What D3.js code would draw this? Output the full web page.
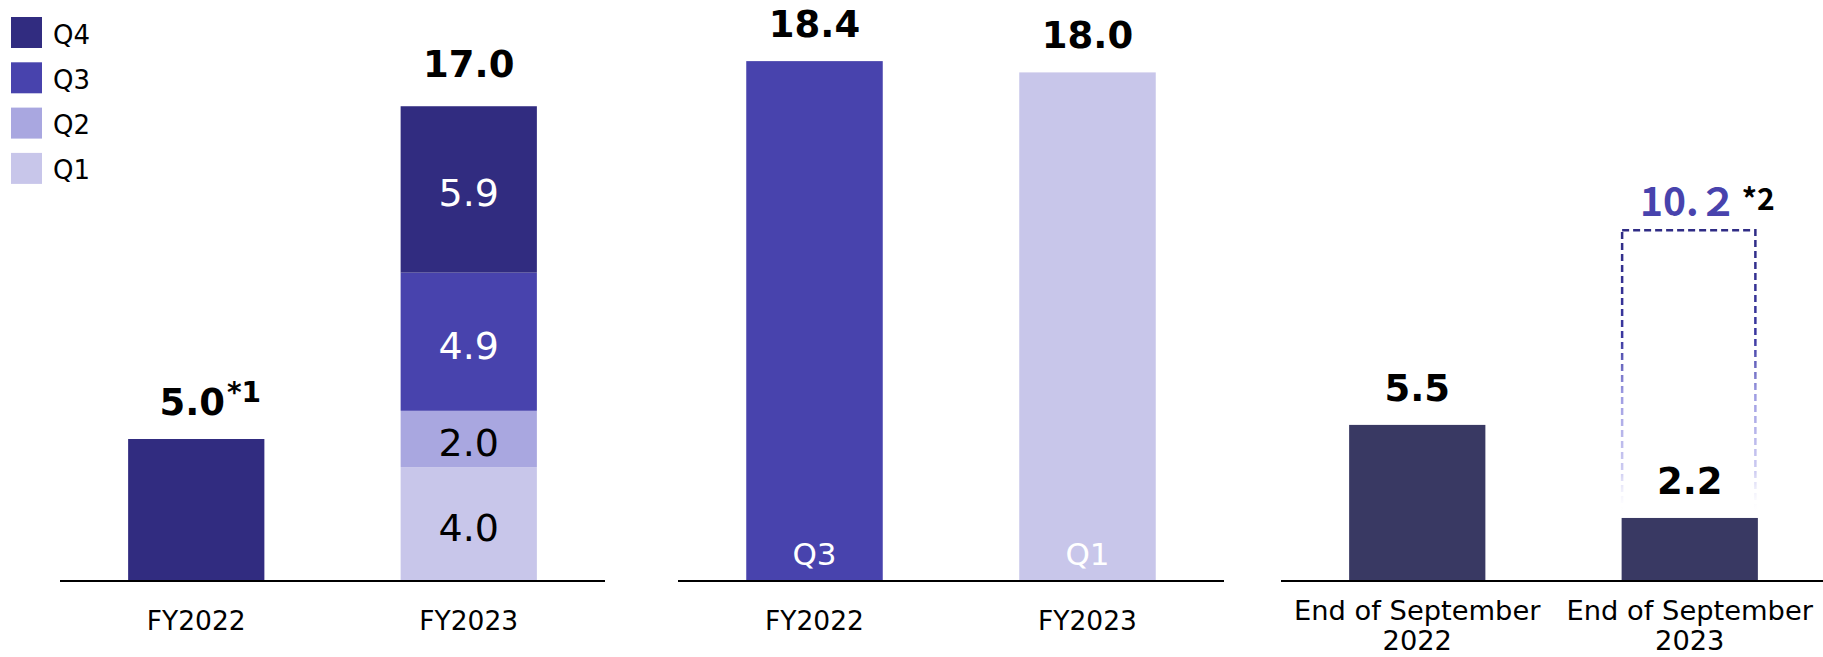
<!DOCTYPE html>
<html>
<head>
<meta charset="utf-8">
<script src="https://cdn.jsdelivr.net/npm/d3@7"></script>
<style>
  html, body { margin: 0; padding: 0; background: #ffffff; }
  svg { display: block; }
</style>
</head>
<body>
<svg id="chart" width="1823" height="657"></svg>
<script>
// ---- data ----
const fyCategories = ["FY2022", "FY2023"];
const quarterKeys = ["Q1", "Q2", "Q3", "Q4"];
const q1Values = [0, 4.0];
const q2Values = [0, 2.0];
const q3Values = [0, 4.9];
const q4Values = [5.0, 5.9];
const annualTotals = [5.0, 17.0];
const annualNotes = ["*1", ""];

const peakValues = [18.4, 18.0];
const peakQuarters = ["Q3", "Q1"];

const septCategories = [["End of September", "2022"], ["End of September", "2023"]];
const septValues = [5.5, 2.2];
const septPlanned = [null, 10.2];
const septPlannedNote = "*2";

const legendLabels = ["Q4", "Q3", "Q2", "Q1"];

// ---- styles ----
const quarterColor = d3.scaleOrdinal()
  .domain(quarterKeys)
  .range(["#c8c6ea", "#a9a7e0", "#4843ad", "#312c80"]);
const septColor = "#393963";
const latin = "'DejaVu Sans', Verdana, sans-serif";
const cjk = "'Noto Sans CJK JP', 'DejaVu Sans', sans-serif";

const svg = d3.select("#chart");

// shared value scale for all three panels
const y = d3.scaleLinear().domain([0, 20]).range([580, 16]);

function bandFor(domain, x0, x1) {
  return d3.scaleBand().domain(domain).range([x0, x1])
    .paddingInner(0.5).paddingOuter(0.25);
}

function drawBaseline(g, x) {
  const [a, b] = x.range();
  g.append("line")
    .attr("x1", a).attr("x2", b)
    .attr("y1", y(0) + 1).attr("y2", y(0) + 1)
    .attr("stroke", "#000").attr("stroke-width", 2);
}

function drawCategoryLabels(g, x, labels, size) {
  labels.forEach((lab, i) => {
    const lines = Array.isArray(lab) ? lab : [lab];
    const cx = x(x.domain()[i]) + x.bandwidth() / 2;
    const t = g.append("text")
      .attr("x", cx)
      .attr("y", lines.length > 1 ? 620 : 630)
      .attr("text-anchor", "middle")
      .attr("font-family", latin)
      .attr("font-size", size)
      .attr("fill", "#000");
    lines.forEach((ln, k) => {
      t.append("tspan")
        .attr("x", cx)
        .attr("dy", k === 0 ? 0 : 30)
        .text(ln);
    });
  });
}

function valueLabel(g, cx, v, note) {
  const t = g.append("text")
    .attr("x", cx + (note ? 14 : 0))
    .attr("y", y(v) - 24)
    .attr("text-anchor", "middle")
    .attr("font-family", latin)
    .attr("font-weight", "bold")
    .attr("font-size", 37)
    .attr("fill", "#000");
  t.append("tspan").text(d3.format(".1f")(v));
  if (note) {
    t.append("tspan")
      .attr("font-size", 28)
      .attr("dy", -13)
      .attr("dx", 2)
      .text(note);
  }
  return t;
}

// ---- panel 1: quarterly stacked bars ----
{
  const g = svg.append("g");
  const x = bandFor(fyCategories, 60, 605);
  const rows = fyCategories.map((c, i) => ({
    cat: c, Q1: q1Values[i], Q2: q2Values[i], Q3: q3Values[i], Q4: q4Values[i]
  }));
  const series = d3.stack().keys(quarterKeys)(rows);

  series.forEach(s => {
    s.forEach((d, i) => {
      const v = d[1] - d[0];
      if (v <= 0) return;
      g.append("rect")
        .attr("x", x(rows[i].cat))
        .attr("width", x.bandwidth())
        .attr("y", y(d[1]))
        .attr("height", y(d[0]) - y(d[1]))
        .attr("fill", quarterColor(s.key));
    });
  });

  // segment values inside the stacked bar (only where several quarters exist)
  series.forEach(s => {
    s.forEach((d, i) => {
      const v = d[1] - d[0];
      const nonZero = quarterKeys.filter(k => rows[i][k] > 0).length;
      if (v <= 0 || nonZero < 2) return;
      g.append("text")
        .attr("x", x(rows[i].cat) + x.bandwidth() / 2)
        .attr("y", (y(d[0]) + y(d[1])) / 2 + 17)
        .attr("text-anchor", "middle")
        .attr("font-family", latin)
        .attr("font-size", 38)
        .attr("fill", (s.key === "Q3" || s.key === "Q4") ? "#ffffff" : "#000000")
        .text(d3.format(".1f")(v));
    });
  });

  annualTotals.forEach((v, i) => {
    valueLabel(g, x(fyCategories[i]) + x.bandwidth() / 2, v, annualNotes[i]);
  });

  drawBaseline(g, x);
  drawCategoryLabels(g, x, fyCategories, 26.5);

  // legend
  const lg = svg.append("g");
  legendLabels.forEach((k, i) => {
    lg.append("rect")
      .attr("x", 11).attr("y", 17 + i * 45.3)
      .attr("width", 31).attr("height", 31)
      .attr("fill", quarterColor(k));
    lg.append("text")
      .attr("x", 53).attr("y", 43.5 + i * 45.3)
      .attr("font-family", latin)
      .attr("font-size", 26)
      .attr("fill", "#000")
      .text(k);
  });
}

// ---- panel 2: peak quarter ----
{
  const g = svg.append("g");
  const x = bandFor(fyCategories, 678, 1224);
  peakValues.forEach((v, i) => {
    const cx = x(fyCategories[i]) + x.bandwidth() / 2;
    g.append("rect")
      .attr("x", x(fyCategories[i]))
      .attr("width", x.bandwidth())
      .attr("y", y(v))
      .attr("height", y(0) - y(v))
      .attr("fill", quarterColor(peakQuarters[i]));
    g.append("text")
      .attr("x", cx)
      .attr("y", y(0) - 15)
      .attr("text-anchor", "middle")
      .attr("font-family", latin)
      .attr("font-size", 31)
      .attr("fill", "#ffffff")
      .text(peakQuarters[i]);
    valueLabel(g, cx, v, "");
  });
  drawBaseline(g, x);
  drawCategoryLabels(g, x, fyCategories, 26.5);
}

// ---- panel 3: end of September ----
{
  const g = svg.append("g");
  const keys = septCategories.map(d => d.join(" "));
  const x = bandFor(keys, 1281, 1826);

  const defs = svg.append("defs");

  septValues.forEach((v, i) => {
    const cx = x(keys[i]) + x.bandwidth() / 2;
    g.append("rect")
      .attr("x", x(keys[i]))
      .attr("width", x.bandwidth())
      .attr("y", y(v))
      .attr("height", y(0) - y(v))
      .attr("fill", septColor);
    valueLabel(g, cx, v, "");

    const extra = septPlanned[i];
    if (extra != null) {
      const top = y(v + extra);
      const bottom = y(v) - 4;
      const grad = defs.append("linearGradient")
        .attr("id", "planFade")
        .attr("gradientUnits", "userSpaceOnUse")
        .attr("x1", 0).attr("x2", 0)
        .attr("y1", top).attr("y2", bottom);
      [[0, "#2f2c85", 1], [0.38, "#3a37a0", 1], [0.58, "#9e9ce2", 1],
       [0.85, "#c0beee", 0.8], [1, "#ffffff", 0]].forEach(([o, c, op]) => {
        grad.append("stop").attr("offset", o).attr("stop-color", c).attr("stop-opacity", op);
      });
      g.append("rect")
        .attr("x", x(keys[i]) + 0.5)
        .attr("width", x.bandwidth() - 3)
        .attr("y", top)
        .attr("height", bottom - top)
        .attr("fill", "none")
        .attr("stroke", "url(#planFade)")
        .attr("stroke-width", 2.5)
        .attr("stroke-dasharray", "7,4");

      const s = d3.format(".1f")(extra).split(".");
      const frac = s[1].replace(/[0-9]/g, ch => String.fromCharCode(ch.charCodeAt(0) + 0xFEE0));
      g.append("text")
        .attr("x", cx - 1)
        .attr("y", top - 14)
        .attr("text-anchor", "middle")
        .attr("font-family", cjk)
        .attr("font-weight", "bold")
        .attr("font-size", 39)
        .attr("fill", "#4843ad")
        .text(s[0] + "." + frac);
      g.append("text")
        .attr("x", cx + 52)
        .attr("y", top - 20)
        .attr("font-family", cjk)
        .attr("font-weight", "bold")
        .attr("font-size", 30)
        .attr("fill", "#000")
        .text(septPlannedNote);
    }
  });
  drawBaseline(g, x);
  drawCategoryLabels(g, x, septCategories, 27.3);
}
</script>
</body>
</html>
